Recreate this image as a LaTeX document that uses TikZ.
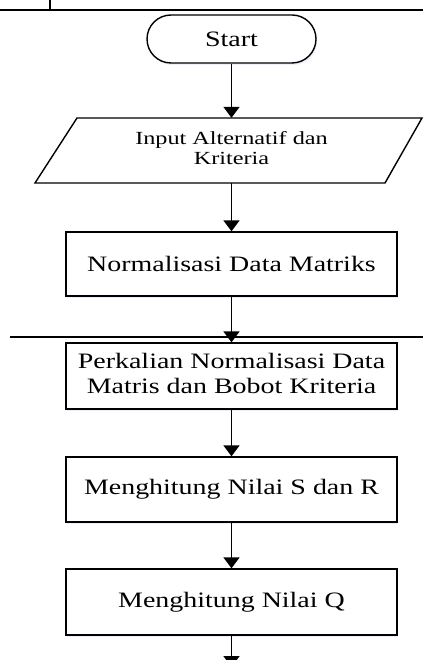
\documentclass[tikz,border=0pt]{standalone}
\usepackage{fontspec}
\setmainfont{Liberation Serif}
\usepackage{graphicx}
\usetikzlibrary{arrows.meta,shadows}
\newcommand\widetext[1]{\scalebox{1.27}[1]{#1}}
\newcommand\widerin[1]{\scalebox{1.31}[1]{#1}}
\begin{document}
\begin{tikzpicture}[x=1pt,y=1pt,
  rule/.style={line width=1.9pt},
  sh/.style={drop shadow={shadow xshift=1.2pt,shadow yshift=-2pt,fill=blue!10,opacity=0.7}},
  procbox/.style={draw,line width=1.4pt,fill=white,sh,minimum width=331pt,minimum height=65pt,inner sep=0pt,
    font=\fontsize{22}{24.5}\selectfont},
  term/.style={draw,line width=1.4pt,fill=white,sh,rounded corners=24pt,minimum width=169pt,minimum height=48pt,inner sep=0pt,
    font=\fontsize{22}{24}\selectfont},
  flow/.style={line width=1.9pt,-{Triangle[width=16pt,length=11pt]}}]
\useasboundingbox (0,0) rectangle (423,-660);
% top rules
\coordinate (tl) at (0,-10);
\coordinate (tr) at (423,-10);
\coordinate (vt) at (50,0);
\coordinate (vb) at (50,-10);
\draw[rule] (tl) -- (tr);
\draw[rule] (vt) -- (vb);
% middle rule
\coordinate (ml) at (10,-337);
\coordinate (mr) at (423,-337);
% nodes
\node[term] (start) at (231.5,-39) {\widetext{Start}};
% parallelogram
\coordinate (p1) at (35,-183);
\coordinate (p2) at (77,-118);
\coordinate (p3) at (422,-118);
\coordinate (p4) at (385,-183);
\fill[blue!10,opacity=0.7,xshift=1.2pt,yshift=-2pt] (p1) -- (p2) -- (p3) -- (p4) -- cycle;
\draw[line width=1.4pt,fill=white] (p1) -- (p2) -- (p3) -- (p4) -- cycle;
\node[minimum width=300pt,minimum height=65pt,inner sep=0pt,font=\fontsize{18.5}{20.5}\selectfont] (inp) at (231.5,-150.5)
  {\widerin{\begin{tabular}{@{}c@{}}Input Alternatif dan\\Kriteria\end{tabular}}};
\node[procbox,minimum height=64pt] (norm) at (231.5,-264) {\widetext{Normalisasi Data Matriks}};
\node[procbox,minimum height=66pt] (perk) at (231.5,-376)
  {\widetext{\begin{tabular}{@{}c@{}}Perkalian Normalisasi Data\\Matris dan Bobot Kriteria\end{tabular}}};
\node[procbox] (msr) at (231.5,-489.5) {\widetext{Menghitung Nilai S dan R}};
\node[procbox,minimum height=66pt] (mq) at (231.5,-602) {\widetext{Menghitung Nilai Q}};
\coordinate (end) at (231.5,-667);
% connectors
\draw[flow] (start.south) -- (inp.north);
\draw[flow] (inp.south) -- (norm.north);
\draw[flow] (norm.south) -- (perk.north);
\draw[rule] (ml) -- (mr);
\draw[flow] (perk.south) -- (msr.north);
\draw[flow] (msr.south) -- (mq.north);
\draw[flow] (mq.south) -- (end);
\end{tikzpicture}
\end{document}
